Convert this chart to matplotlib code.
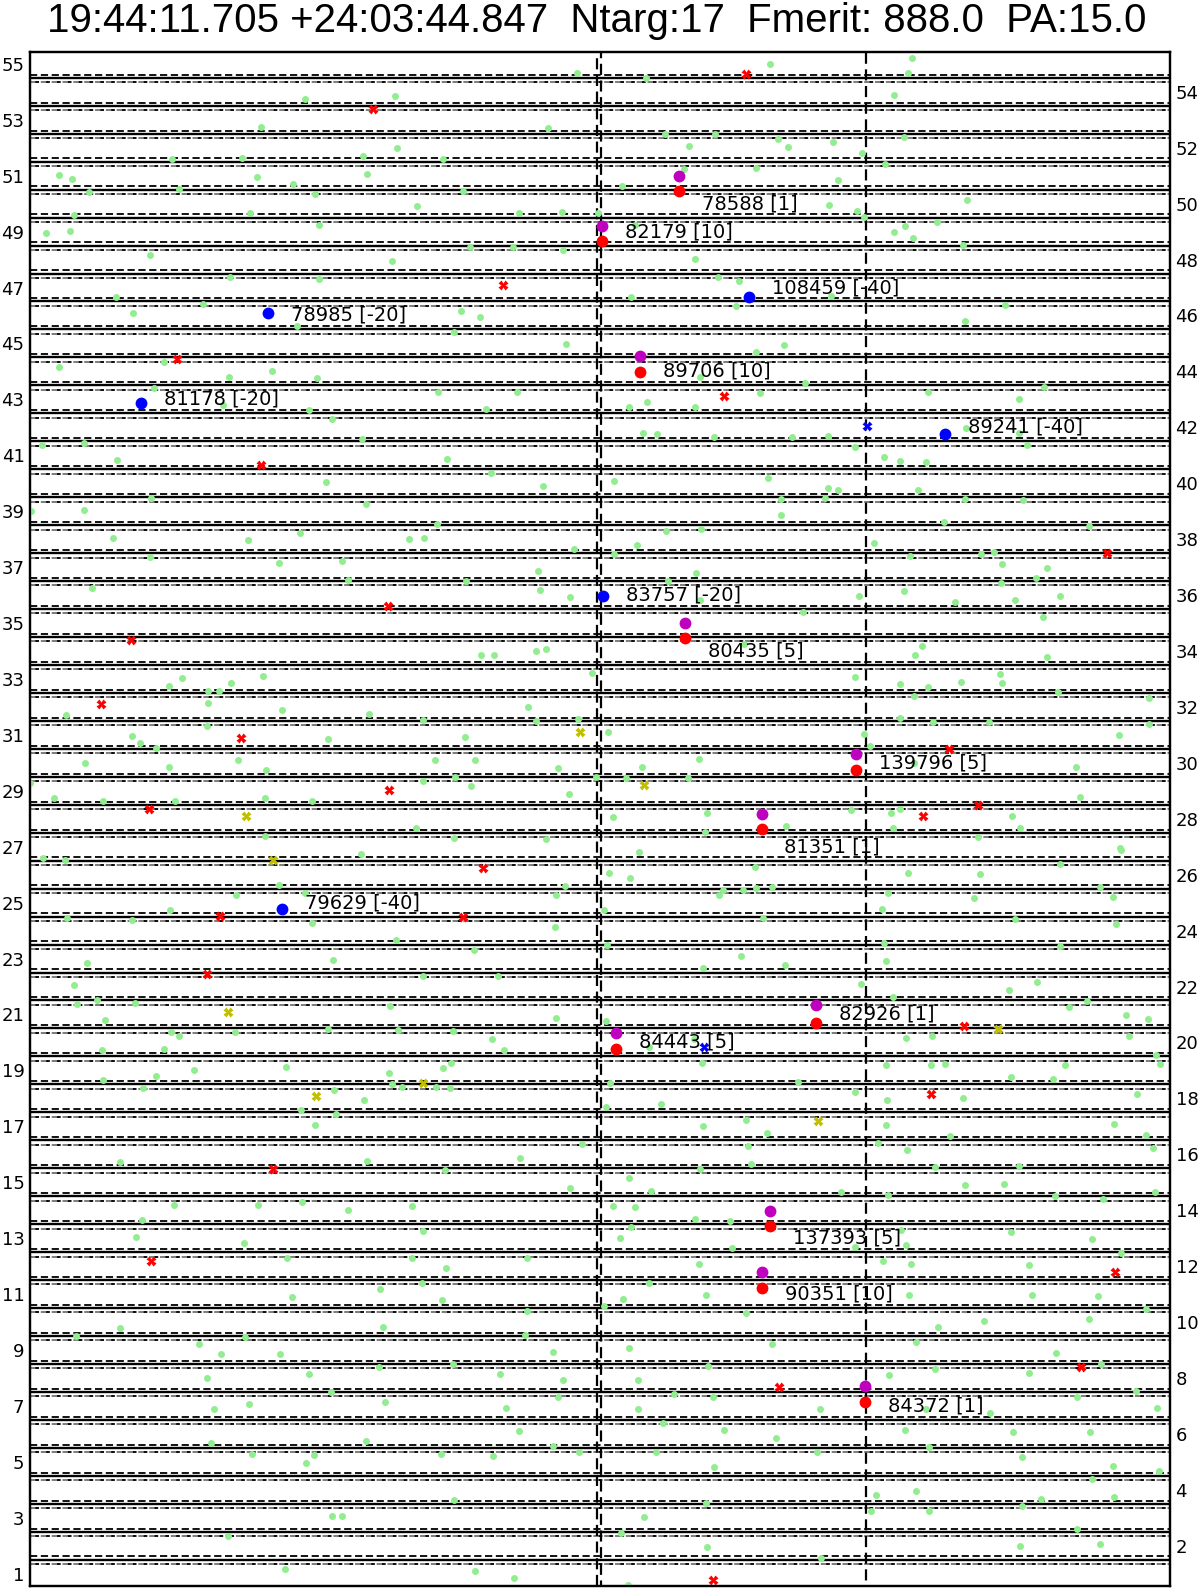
import matplotlib
matplotlib.use("Agg")
import matplotlib.pyplot as plt
import numpy as np

# mask layout, in reference-pixel units (y grows downward)
title = "19:44:11.705 +24:03:44.847  Ntarg:17  Fmerit: 888.0  PA:15.0"
n_slits = 55
first_edge = 77.8
slit_pitch = 27.96
x_lim = (30, 1170)
y_lim = (1586, 52)
field_lines = [597.0, 600.5, 866.0]

# field stars (green)
stars_nw = [(576.6,73.3),(304.6,99),(395,96.3),(260.5,127.3),(547.9,128),(396.6,148),(172.4,158.7),(242.1,158),
            (363.2,156.3),(443.3,159),(58.6,174.7),(72.4,178.7),(256.7,177),(367,174),(89.3,192.3),(178.5,189),
            (292.7,184.3),(315,193.7),(463.2,191.3),(416.5,206.3),(74.3,215.3),(250.2,213.3),(518.8,213.3),
            (561.7,212),(597.7,212.7),(318.8,224.7),(45.6,232.7),(70.1,231),(469.7,246.7),(513.4,246.7),
            (562.8,250),(150.2,254.7),(392,261),(229.5,277),(318.8,279.3),(116.1,297.3),(203.4,304),(133.3,312.7),
            (460.9,311),(479.7,317),(297.3,326),(454,332.3),(566.3,344),(164,362.3),(59.4,367),(271.6,371),
            (228.7,377.3),(316.5,378),(153.6,387.7),(437.9,392.3),(517.2,392.3),(223.4,405),(308.8,409.7),
            (486.2,409.3),(332.2,419.3),(361.7,438.7),(42.1,445),(83.9,443.3)]
stars_ne = [(770.2,63.7),(912.2,57.7),(907.6,72.7),(646.2,78),(893.9,95.3),(665.3,133.7),(714.9,133.7),(777.9,139.3),
            (832.8,142.3),(904.2,136.7),(689.3,146),(788.2,147),(862.2,153.3),(884.7,164.3),(684.4,168.7),
            (755.7,167.7),(621.8,185.7),(837.8,180.3),(966.8,200),(828.6,204.7),(856.5,211),(864.1,217.3),
            (635,225),(893.9,231.7),(905.3,226),(936.6,222),(913,238),(963,245.3),(695.4,259.3),(717.9,277),
            (738.9,280.7),(630.5,296.7),(830.5,295.7),(736.3,305.7),(1005.3,304.7),(964.5,320.7),(784.4,345.3),
            (755.7,352),(699.6,377.3),(805,382.7),(1043.9,386.7),(759.9,393),(927.9,392),(647,402.3),(628.6,407.3),
            (695.4,406.7),(1018.7,399.3),(642.7,433.3),(656.5,434.3),(713.7,437.3),(791.6,437.3),(828.2,436),
            (965.6,427.7),(1018.7,432.7),(1026.7,445),(854.6,446.7)]
stars_w = [(117.2,460.3),(447.1,459),(491.2,473.3),(326,481.7),(542.9,485.7),(151,497.7),(31.4,511),(84.3,510.3),
           (366.3,504),(436.8,524),(112.6,538),(247.5,540.3),(300.4,533),(409.2,538.7),(424.1,538),(574,549),
           (150.2,557),(278.5,562.7),(342.1,561),(538.3,571),(347.5,580.3),(466.3,581),(92.3,587.7),(539.5,590.3),
           (569.7,597),(480.5,655),(493.9,655),(536,651),(545.6,649),(182.4,678.3),(169,685.7),(231.4,682.7),
           (263.2,675.7),(208,691.3),(219.2,691.3),(592,672.7),(208,702.7),(65.9,714.7),(282.4,710.3),(368.6,714.3),
           (528,706.7),(423,720.3),(536.4,721),(577.8,719.3),(206.5,725.7),(131.8,736),(139.8,743),(155.6,747.7),
           (328.4,739),(464.8,736.7),(85.4,762.7),(169,766.7),(237.9,760.3),(265.5,770),(434.5,759.7),(475.1,759.7),
           (557.5,768.3),(595.8,776.7),(29.9,783.3),(423,781),(454.8,777),(471.3,785.7),(53.6,797.7),(103.4,800.7),
           (174.7,801.3),(265.1,798.3),(311.9,801.3),(569.3,794.3),(415.7,827.7),(265.1,836),(454,838.3),(546.4,839)]
stars_e = [(883.6,457.3),(900.4,461.3),(926.3,462),(613.7,481),(767.6,478),(827.9,488),(838.2,490.3),(917.6,489.7),
           (781.3,499.3),(824.8,497.7),(965.3,499.3),(1022.5,500.3),(780.5,515),(943.9,521.7),(1088.9,526.3),
           (665.6,530.7),(701.1,529.3),(636.6,545),(874,542.7),(613.7,553.7),(910.3,555.7),(980.5,553.7),
           (993.9,552.3),(1002.3,564),(1047.3,568),(696.2,573.3),(668.3,580.7),(1035.5,578.3),(1000.8,583),
           (904.2,591),(859.2,595.7),(700.4,600),(955,602),(1014.9,599.7),(1059.9,595.7),(803.1,612),(1043.1,617.3),
           (744.3,644.3),(921.8,646),(914.5,655),(1047.3,657.3),(854.6,676.7),(1000.4,674.3),(899.6,683.7),
           (927.9,686.7),(961.1,682),(1002.3,683),(914.1,695.7),(1058,691.7),(1148.9,698),(900.4,718.3),(932.8,722),
           (988.9,721.7),(1148.9,724),(608.4,732),(864.1,733.7),(1119.1,735),(870.2,746),(699.2,759),(642.4,766.7),
           (914.1,763),(1075.6,766.7),(626.3,777.7),(688.2,777.7),(1080.2,796.7),(851.1,810.3),(612.6,817.3),
           (706.5,813),(890.8,813),(900.4,809.3),(1011.5,815.7),(785.9,826),(704.6,831.7),(893.1,828.3),
           (1019.5,828.3),(978.2,836.7),(1119.8,848.3)]
stars_sw = [(42.9,858),(64.8,860),(360.9,854.3),(278.5,884.7),(235.6,895),(305.4,893.3),(564.8,886),(555.9,895.3),
            (169.7,910.3),(67,918.3),(132.2,920.3),(311.9,923.3),(555.2,927),(395.8,940),(473.6,950.3),(87.4,963),
            (333,960),(423.4,976),(498.1,975.7),(74.3,984.7),(76.6,1003.7),(96.6,999.7),(134.9,1003),(390.4,1005.7),
            (105,1020),(555.9,1017.7),(328,1029),(397.7,1030),(453.3,1031.3),(171.3,1032),(179.3,1036),(234.5,1032),
            (492,1039),(101.5,1050),(163.6,1049.3),(503.8,1050.3),(193.9,1070),(286.2,1067),(388.9,1073),
            (442.5,1068.3),(451.3,1062.7),(103.4,1079.7),(155.6,1076.3),(142.5,1087.7),(392.3,1084.3),(401.9,1087),
            (436.4,1087),(449.8,1088.3),(333.7,1089.7),(364,1100),(300.8,1110.3),(336.4,1113.7),(314.9,1124.7),
            (581.6,1144.3),(519.9,1157.7),(119.9,1162.3),(367,1161),(444.8,1169.7),(570.1,1187.7),(173.6,1205.3),
            (258.2,1204.7),(302.3,1202),(347.5,1210),(412.3,1206.3),(141.8,1220.3),(423.4,1231),(136.4,1237),
            (244.1,1242.7)]
stars_se = [(639,852),(755,867),(1121,850),(609,873),(630,878),(723,890),(743,890),(756,888),(772,887),(888,893),
            (908,873),(980,874),(1060,864),(1100,887),(1113,897),(974,898),(604,910),(719,895),(763,918),(882,909),
            (1015,919),(1116,924),(607,945),(703,968),(741,956),(785,965),(884,943),(886,961),(1060,946),(1037,982),
            (606,1021),(861,984),(893,997),(1009,990),(1069,1007),(1087,1001),(694,1039),(1126,1015),(1148,1019),
            (1129,1036),(906,1038),(932,1036),(649,1047),(1156,1055),(610,1083),(702,1063),(886,1065),(931,1065),
            (945,1064),(1160,1064),(1065,1065),(1011,1077),(606,1107),(661,1104),(798,1082),(855,1092),(887,1100),
            (963,1098),(1053,1079),(1137,1094),(703,1126),(746,1120),(767,1133),(886,1125),(950,1136),(1114,1124),
            (1146,1135),(629,1178),(700,1169),(748,1146),(751,1164),(878,1143),(907,1150),(935,1167),(965,1185),
            (1004,1184),(1019,1166),(1153,1148),(613,1206),(635,1207),(651,1191),(695,1219),(841,1192),(888,1195),
            (1055,1196),(1103,1199),(1155,1192),(620,1238),(631,1227),(730,1221),(855,1247),(901,1230),(906,1245),
            (1092,1239),(1011,1232)]
stars_s = [(287,1258),(412,1258),(446,1268),(527,1258),(292,1297),(380,1289),(422,1283),(442,1300),(527,1311),
           (76,1336),(120,1328),(199,1344),(245,1337),(383,1327),(525,1335),(553,1352),(221,1354),(280,1354),
           (207,1378),(309,1374),(379,1367),(453,1364),(500,1374),(563,1380),(214,1409),(249,1404),(331,1392),
           (385,1402),(506,1408),(558,1397),(366,1441),(519,1431),(553,1446),(210.7,1442.7),(252.3,1454),
           (228.3,1536),(285,1569.3),(306,1463),(314,1455),(441,1454),(493,1456),(332,1516),(342,1516),(454,1500),
           (475,1571),(514,1578),
           (699,1264),(732,1248),(883,1261),(911,1264),(1029,1265),(1121,1253),(604,1306),(623,1299),(649,1283),
           (706,1295),(746,1313),(909,1295),(1098,1296),(1146,1309),(1032,1295),(629,1348),(772,1344),(916,1342),
           (938,1327),(984,1321),(1089,1319),(1056,1353),(638,1380),(708,1366),(889,1375),(935,1369),(1029,1373),
           (1101,1364),(638,1409),(674,1394),(713,1397),(820,1409),(926,1409),(990,1413),(1077,1397),(1136,1391),
           (1157,1408),(663,1423),(724,1430),(776,1438),(905,1430),(1013,1432),(1090,1432),(1022,1457),(1113,1466),
           (1092,1479),(1159,1471),(1022,1506),(1041,1499),(1114,1497),(1077,1529),(1020,1546),(1100,1544),
           (579,1451.7),(656,1452.3),(816.7,1451.7),(929.3,1446.7),(714,1467.3),(876,1495),(916,1491),(705.7,1502.7),
           (870.7,1511),(929.3,1510.7),(644,1516.7),(621,1532.7),(706.7,1546.7),(821,1558.3),(628.3,1585),(614,1588)]

# rejected / other catalogue objects
red_x = [(746.2,74.3),(372.8,109),(503,284.7),(177.4,359.3),(723.7,396),(261.3,465),(388.1,606.3),(130.7,639.7),
         (101.1,704),(1106.9,553.3),(240.6,738),(949.2,749),(388.9,790),(149,809.3),(977.9,805),(922.9,816),
         (483.1,867.7),(219.9,916),(463.2,917.3),(207.3,973.7),(963.7,1025.5),(931.2,1093.5),(273.2,1169),
         (151.1,1260.9),(1114.8,1272),(1081.3,1367.4),(779,1386.6),(713.3,1580)]
yellow_x = [(580.1,731.7),(644.3,784.7),(245.6,815.7),(273.2,859.7),(228.4,1012),(316.1,1096),(422.6,1083),
            (817.6,1120.9),(998.2,1028.6)]
blue_x = [(866.8,425.7),(704,1046.8)]

# slit targets: id, priority, x, object y, slit y, slit number for the label
pair_ids = ["78588", "82179", "89706", "80435", "139796", "81351", "82926", "84443", "137393", "90351", "84372"]
pair_prio = [1, 10, 10, 5, 5, 1, 1, 5, 5, 10, 1]
pair_x = [679.4, 601.9, 639.7, 684.7, 856.1, 761.5, 815.6, 615.7, 769.9, 761.8, 865.3]
pair_obj_y = [175.7, 225.7, 356, 622.7, 754, 814, 1005.2, 1032.6, 1211.2, 1272, 1385.6]
pair_slit_y = [190.7, 241, 372, 638, 770, 829.3, 1022.5, 1048.9, 1226.4, 1288.2, 1401.9]
pair_slit = [50, 49, 44, 34, 30, 27, 21, 20, 13, 11, 7]

blue_ids = ["108459", "78985", "81178", "89241", "83757", "79629"]
blue_prio = [-40, -20, -20, -40, -20, -40]
blue_x_pos = [748.9, 268.2, 140.6, 945.4, 603.1, 282.4]
blue_y_pos = [296.7, 313.3, 402.7, 434, 596, 909.3]
blue_slit = [47, 46, 43, 42, 36, 25]


def slit_center(k):
    return first_edge + (n_slits - 0.5 - k) * slit_pitch


fig = plt.figure(figsize=(12, 15.9), dpi=100)
ax = fig.add_axes([30 / 1200, 1 - 1586 / 1590, 1140 / 1200, 1534 / 1590])

edges = first_edge + slit_pitch * np.arange(n_slits - 1)
for e in edges:
    ax.axhline(e, color="k", lw=1.7, zorder=1)
    ax.axhline(e - 3.2, color="k", lw=1.3, ls=(0, (4, 2)), zorder=1)
    ax.axhline(e + 4.4, color="0.45", lw=1.3, ls=(0, (4, 2)), zorder=1)
    ax.axhline(e + 4.4, color="k", lw=1.3, ls=(3, (2, 4)), zorder=1)

for i, fx in enumerate(field_lines):
    ax.axvline(fx, color="k", lw=1.6, ls=(i * 2.5, (5, 2.5)), zorder=2)

stars = np.array(stars_nw + stars_ne + stars_w + stars_e + stars_sw + stars_se + stars_s)
ax.plot(stars[:, 0], stars[:, 1], "o", color="lightgreen", ms=5, mec="none", zorder=3)

for pts, col in [(red_x, "r"), (yellow_x, "y"), (blue_x, "b")]:
    p = np.array(pts)
    ax.plot(p[:, 0], p[:, 1], "X", color=col, ms=7, mec="none", zorder=4)

ax.plot(pair_x, pair_obj_y, "o", color="m", ms=8.5, mec="none", zorder=5)
ax.plot(pair_x, pair_slit_y, "o", color="r", ms=8.5, mec="none", zorder=5)
ax.plot(blue_x_pos, blue_y_pos, "o", color="b", ms=8.5, mec="none", zorder=5)

for name, pr, x, k in zip(pair_ids + blue_ids, pair_prio + blue_prio, pair_x + blue_x_pos, pair_slit + blue_slit):
    ax.annotate(f"{name} [{pr}]", (x, slit_center(k)), xytext=(16.5, 0), textcoords="offset points",
                va="center", ha="left", fontsize=14, zorder=6)

ax.set_xlim(*x_lim)
ax.set_ylim(*y_lim)
ax.set_xticks([])

odd = list(range(1, n_slits + 1, 2))
even = list(range(2, n_slits + 1, 2))
ax.set_yticks([slit_center(k) for k in odd])
ax.set_yticklabels([str(k) for k in odd], fontsize=13)
ax.tick_params(axis="y", length=0, pad=4)

ax2 = ax.twinx()
ax2.set_ylim(*y_lim)
ax2.set_yticks([slit_center(k) for k in even])
ax2.set_yticklabels([str(k) for k in even], fontsize=13)
ax2.tick_params(axis="y", length=0, pad=4)

for a in (ax, ax2):
    for s in a.spines.values():
        s.set_linewidth(1.6)

fig.text(0.4975, 1 - 31.7 / 1590, title, ha="center", va="baseline", fontsize=29, family="Liberation Sans")

fig.savefig("out.png", dpi=100)
